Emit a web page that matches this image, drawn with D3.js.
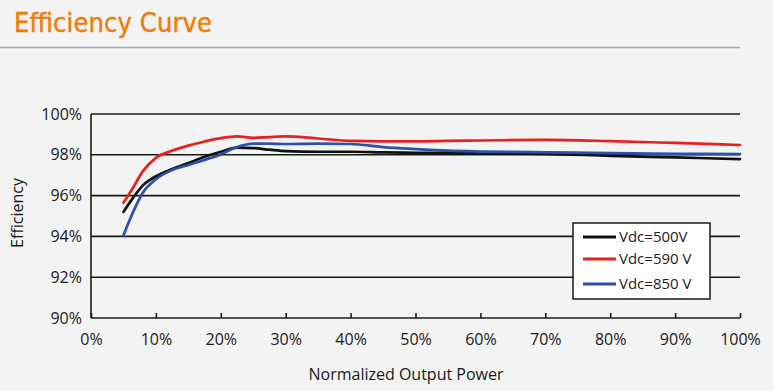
<!DOCTYPE html>
<meta charset="utf-8">
<style>
body { margin: 0; background: #f3f3f3; }
svg { display: block; }
.grid line { stroke: #1a1a1a; stroke-width: 1.6px; }
.line { fill: none; stroke-width: 2.7px; stroke-linejoin: round; stroke-linecap: round; }
text { font-family: "Open Sans", "Noto Sans", sans-serif; fill: #1a1a1a; }
</style>
<body>
<script src="https://cdn.jsdelivr.net/npm/d3@7"></script>
<script>

// load points (% of rated output) and efficiency readings (%)
var load = [5, 6.5, 8, 10, 12.5, 15, 17.5, 20, 22.5, 25, 27.5, 30, 35, 40, 45, 50, 55, 60, 70, 80, 90, 100];

var vdc500 = [95.2, 95.9, 96.5, 96.95, 97.3, 97.6, 97.9, 98.15, 98.35, 98.33, 98.25, 98.18, 98.15, 98.15, 98.12, 98.1, 98.09, 98.08, 98.05, 97.95, 97.87, 97.79];
var vdc590 = [95.65, 96.4, 97.2, 97.85, 98.2, 98.45, 98.65, 98.82, 98.9, 98.83, 98.87, 98.9, 98.8, 98.68, 98.66, 98.66, 98.68, 98.7, 98.73, 98.67, 98.58, 98.48];
var vdc850 = [94.05, 95.2, 96.15, 96.8, 97.25, 97.5, 97.75, 98.02, 98.38, 98.55, 98.55, 98.53, 98.55, 98.53, 98.38, 98.28, 98.2, 98.16, 98.12, 98.08, 98.05, 98.04];

var seriesNames = ["Vdc=500V", "Vdc=590 V", "Vdc=850 V"];
var seriesColors = ["#111111", "#e8211d", "#2a52a8"];

var xTicks = [0, 10, 20, 30, 40, 50, 60, 70, 80, 90, 100];
var yTicks = [90, 92, 94, 96, 98, 100];

var W = 773, H = 391;
var margin = {top: 114, right: 33, bottom: 73, left: 91},
    width = W - margin.left - margin.right,
    height = H - margin.top - margin.bottom;

var x = d3.scaleLinear().domain([0, 100]).range([0, width]);
var y = d3.scaleLinear().domain([90, 100]).range([height, 0]);

var root = d3.select("body").append("svg")
    .attr("width", W)
    .attr("height", H);

// header
root.append("text")
    .attr("x", 14)
    .attr("y", 32)
    .style("font-family", "'DejaVu Sans', sans-serif")
    .style("font-stretch", "condensed")
    .style("font-size", "27px")
    .style("fill", "#f07b05")
    .style("stroke", "#f07b05")
    .style("stroke-width", 0.4)
    .attr("textLength", 198)
    .text("Efficiency Curve");

root.append("line")
    .attr("x1", 0).attr("x2", 740)
    .attr("y1", 47.5).attr("y2", 47.5)
    .style("stroke", "#a8a8a8")
    .style("stroke-width", 1.5);

var svg = root.append("g")
    .attr("transform", "translate(" + margin.left + "," + margin.top + ")");

// horizontal grid
svg.append("g")
    .attr("class", "grid")
    .selectAll("line")
    .data(yTicks)
  .enter().append("line")
    .attr("x1", 0).attr("x2", width)
    .attr("y1", function(d) { return y(d); })
    .attr("y2", function(d) { return y(d); });

// left axis line
svg.append("line")
    .attr("x1", 0).attr("x2", 0)
    .attr("y1", 0).attr("y2", height)
    .style("stroke", "#1a1a1a")
    .style("stroke-width", 1.6);

// x axis: inner ticks + labels
var xAxis = svg.append("g")
    .attr("transform", "translate(0," + height + ")")
    .call(d3.axisBottom(x).tickValues(xTicks).tickSizeInner(-5).tickSizeOuter(0).tickPadding(16)
      .tickFormat(function(d) { return d + "%"; }));
xAxis.select(".domain").remove();
xAxis.selectAll("line").style("stroke", "#1a1a1a").style("stroke-width", 1.6);
xAxis.selectAll("text").style("font-size", "16px").style("font-family", "'Open Sans', sans-serif").style("fill", "#1a1a1a");

// y axis labels
var yAxis = svg.append("g")
    .call(d3.axisLeft(y).tickValues(yTicks).tickSize(0).tickPadding(9)
      .tickFormat(function(d) { return d + "%"; }));
yAxis.select(".domain").remove();
yAxis.selectAll("text").style("font-size", "16px").style("font-family", "'Open Sans', sans-serif").style("fill", "#1a1a1a");

// lines
var allSeries = [vdc500, vdc590, vdc850];
var valueline = d3.line()
    .curve(d3.curveMonotoneX)
    .x(function(d, i) { return x(load[i]); })
    .y(function(d) { return y(d); });

allSeries.forEach(function(s, k) {
  svg.append("path")
      .datum(s)
      .attr("class", "line")
      .style("stroke", seriesColors[k])
      .attr("d", valueline);
});

// axis titles
root.append("text")
    .attr("transform", "translate(23,213) rotate(-90)")
    .attr("text-anchor", "middle")
    .style("font-size", "16px")
    .text("Efficiency");

root.append("text")
    .attr("x", 406)
    .attr("y", 380)
    .attr("text-anchor", "middle")
    .style("font-size", "16px")
    .text("Normalized Output Power");

// legend
var lg = root.append("g").attr("transform", "translate(573,223)");
lg.append("rect")
    .attr("width", 137).attr("height", 76)
    .style("fill", "#ffffff")
    .style("stroke", "#1a1a1a")
    .style("stroke-width", 1.5);

var rowY = [14, 36, 61];
seriesNames.forEach(function(name, k) {
  lg.append("line")
      .attr("x1", 10).attr("x2", 43)
      .attr("y1", rowY[k]).attr("y2", rowY[k])
      .style("stroke", seriesColors[k])
      .style("stroke-width", 3);
  lg.append("text")
      .attr("x", 46)
      .attr("y", rowY[k])
      .attr("dy", "0.35em")
      .style("font-size", "15px")
      .text(name);
});

</script>
</body>
